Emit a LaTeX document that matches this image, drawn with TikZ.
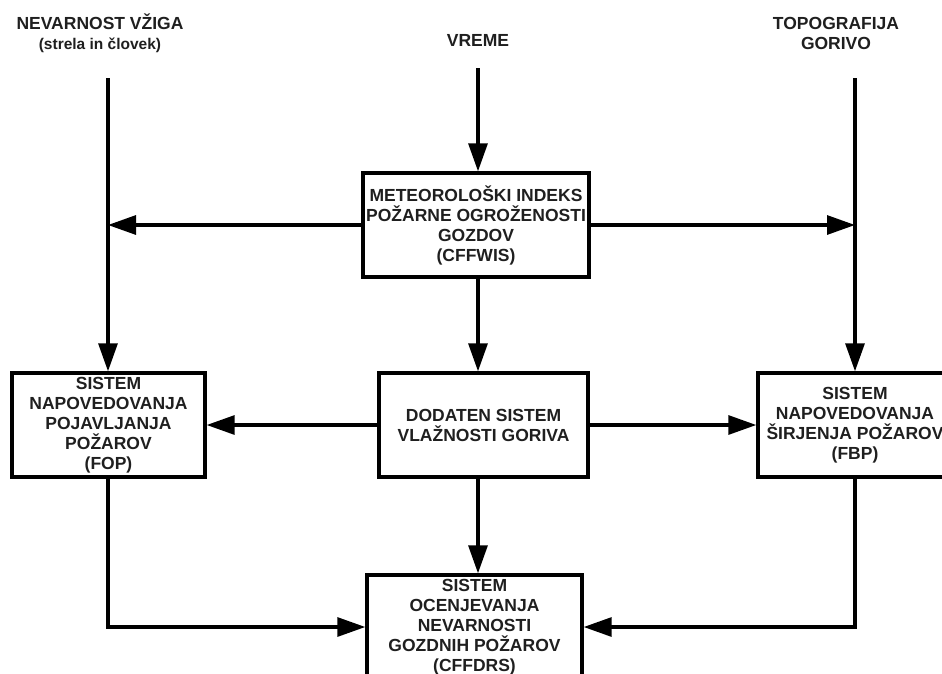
\documentclass[tikz,border=0pt]{standalone}
\usepackage{fontspec}
\setmainfont{Liberation Sans}
\usetikzlibrary{arrows.meta}
\begin{document}
\begin{tikzpicture}[x=1pt,y=-1pt,
  txt/.style={align=center,font=\fontsize{17.5}{20}\selectfont\bfseries,text=black!88,inner sep=0pt},
  box/.style={txt,draw=black,line width=3.4pt},
  arr/.style={line width=3.1pt,-{Triangle[length=28pt,width=19pt]}},
  ln/.style={line width=3.1pt}]
\useasboundingbox (0,0) rectangle (942,673);
% top labels
\node[txt] (ign) at (100,33) {NEVARNOST VŽIGA\\{\fontsize{15.5}{20}\selectfont (strela in človek)}};
\node[txt] (vre) at (478,40) {VREME};
\node[txt] (top) at (836,33) {TOPOGRAFIJA\\GORIVO};
\coordinate (lt) at (108,78);
\coordinate (vt) at (478,68);
\coordinate (rt) at (855,78);
% boxes
\node[box,minimum width=226pt,minimum height=104pt] (met) at (476,225)
  {METEOROLOŠKI INDEKS\\POŽARNE OGROŽENOSTI\\GOZDOV\\(CFFWIS)};
\node[box,minimum width=193pt,minimum height=104pt] (fop) at (108.5,425)
  {SISTEM\\NAPOVEDOVANJA\\POJAVLJANJA\\POŽAROV\\(FOP)};
\node[box,minimum width=209pt,minimum height=104pt] (dod) at (483.5,425)
  {DODATEN SISTEM\\VLAŽNOSTI GORIVA};
\node[box,minimum width=194pt,minimum height=104pt] (fbp) at (855,425)
  {SISTEM\\NAPOVEDOVANJA\\ŠIRJENJA POŽAROV\\(FBP)};
\node[box,minimum width=215pt,minimum height=104pt] (cff) at (474.5,627)
  {SISTEM\\OCENJEVANJA\\NEVARNOSTI\\GOZDNIH POŽAROV\\(CFFDRS)};
% connectors
\draw[arr] (vt) -- (vt |- met.north);
\draw[arr] (lt) -- (lt |- fop.north);
\draw[arr] (rt) -- (rt |- fbp.north);
\draw[arr] (met.west) -- (met.west -| lt);
\draw[arr] (met.east) -- (met.east -| rt);
\draw[arr] (vt |- met.south) -- (vt |- dod.north);
\draw[arr] (dod.west) -- (fop.east);
\draw[arr] (dod.east) -- (fbp.west);
\draw[arr] (vt |- dod.south) -- (vt |- cff.north);
\draw[arr] (lt |- fop.south) |- (cff.west);
\draw[arr] (rt |- fbp.south) |- (cff.east);
\end{tikzpicture}
\end{document}
